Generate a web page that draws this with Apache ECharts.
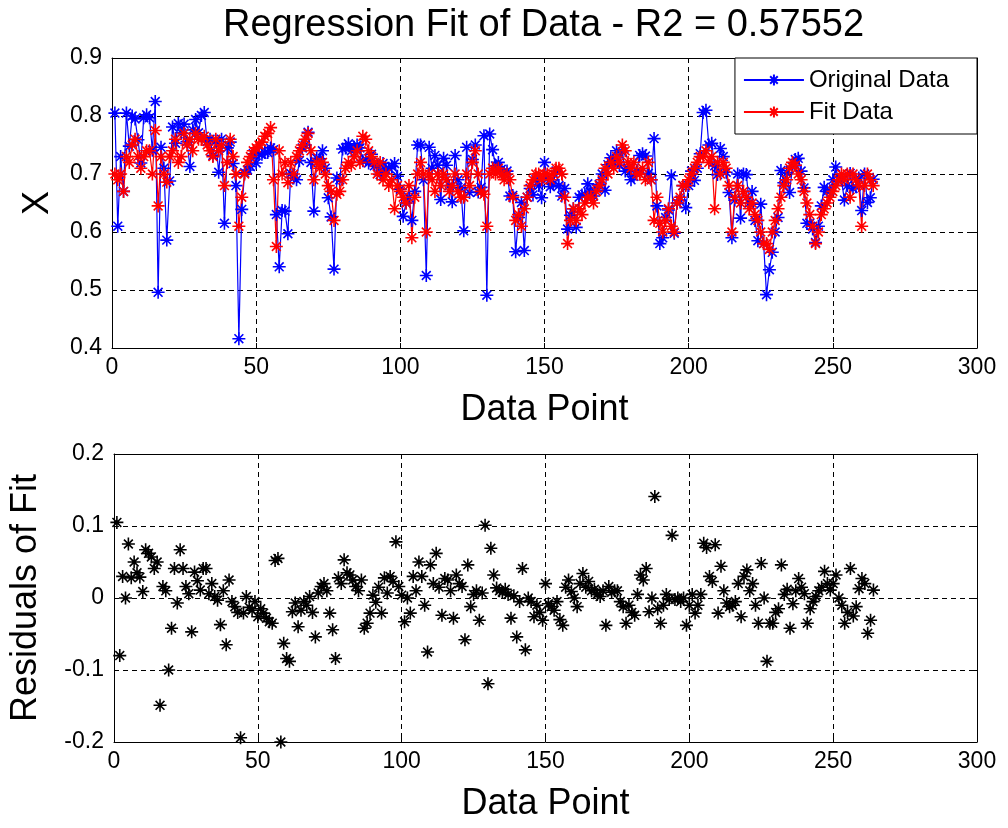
<!DOCTYPE html>
<html>
<head>
<meta charset="utf-8">
<script src="https://cdn.jsdelivr.net/npm/echarts@6/dist/echarts.min.js"></script>
<style>
html,body{margin:0;padding:0;background:#fff;}
#chart{width:1008px;height:828px;}
</style>
</head>
<body>
<div id="chart"></div>
<script>
// ---- data ----
const chartTitle = 'Regression Fit of Data - R2 = 0.57552';
const seriesNames = ['Original Data', 'Fit Data'];
const xTicks = [0, 50, 100, 150, 200, 250, 300];
const yTicksTop = [0.4, 0.5, 0.6, 0.7, 0.8, 0.9];
const yTicksBottom = [-0.2, -0.1, 0, 0.1, 0.2];

const originalData = [
0.805,0.61,0.73,0.67,0.805,0.748,0.80,0.795,0.759,0.719,
0.797,0.802,0.797,0.741,0.825,0.496,0.746,0.71,0.586,0.688,
0.781,0.753,0.787,0.771,0.786,0.756,0.713,0.776,0.794,0.771,
0.801,0.806,0.756,0.76,0.732,0.757,0.703,0.76,0.615,0.745,
0.755,0.718,0.68,0.416,0.639,0.702,0.707,0.713,0.735,0.719,
0.735,0.734,0.737,0.737,0.745,0.742,0.63,0.54,0.637,0.636,
0.597,0.701,0.693,0.69,0.723,0.745,0.75,0.772,0.72,0.636,
0.727,0.726,0.74,0.71,0.659,0.626,0.536,0.693,0.69,0.743,
0.745,0.752,0.74,0.746,0.75,0.745,0.723,0.725,0.719,0.734,
0.714,0.715,0.699,0.718,0.707,0.71,0.713,0.718,0.696,0.674,
0.627,0.65,0.659,0.62,0.67,0.75,0.75,0.69,0.525,0.746,
0.71,0.732,0.715,0.656,0.727,0.715,0.68,0.652,0.732,0.69,
0.676,0.602,0.746,0.668,0.725,0.75,0.669,0.677,0.766,0.491,
0.769,0.742,0.714,0.72,0.708,0.702,0.705,0.662,0.663,0.566,
0.625,0.651,0.568,0.66,0.675,0.664,0.69,0.68,0.659,0.72,
0.692,0.678,0.683,0.705,0.68,0.662,0.675,0.605,0.629,0.64,
0.608,0.66,0.664,0.665,0.683,0.67,0.662,0.675,0.682,0.70,
0.672,0.716,0.728,0.72,0.74,0.715,0.738,0.705,0.71,0.69,
0.696,0.705,0.732,0.735,0.731,0.701,0.69,0.761,0.645,0.58,
0.59,0.625,0.638,0.697,0.598,0.65,0.655,0.68,0.642,0.68,
0.705,0.689,0.71,0.735,0.806,0.81,0.75,0.753,0.714,0.699,
0.744,0.73,0.703,0.668,0.59,0.655,0.70,0.624,0.70,0.699,
0.65,0.67,0.62,0.585,0.648,0.58,0.492,0.535,0.565,0.60,
0.625,0.706,0.685,0.702,0.668,0.712,0.725,0.727,0.705,0.676,
0.615,0.615,0.605,0.582,0.61,0.645,0.677,0.67,0.671,0.69,
0.712,0.69,0.69,0.655,0.68,0.701,0.675,0.678,0.693,0.637,0.70,0.651,0.659,0.691
];

const fitData = [
0.70,0.69,0.70,0.67,0.73,0.72,0.75,0.76,0.73,0.71,
0.73,0.74,0.74,0.70,0.775,0.645,0.73,0.70,0.686,0.73,
0.74,0.76,0.72,0.73,0.77,0.75,0.76,0.74,0.77,0.76,
0.76,0.765,0.75,0.74,0.73,0.76,0.74,0.75,0.68,0.72,
0.76,0.73,0.70,0.61,0.66,0.70,0.72,0.73,0.74,0.745,
0.75,0.755,0.765,0.77,0.78,0.69,0.575,0.74,0.70,0.72,
0.685,0.72,0.70,0.73,0.74,0.75,0.76,0.77,0.74,0.69,
0.72,0.71,0.72,0.70,0.68,0.67,0.62,0.665,0.67,0.69,
0.71,0.72,0.715,0.73,0.74,0.72,0.765,0.76,0.74,0.73,
0.72,0.70,0.72,0.69,0.70,0.68,0.69,0.64,0.68,0.67,
0.66,0.65,0.68,0.59,0.66,0.70,0.72,0.70,0.60,0.70,
0.69,0.67,0.70,0.68,0.70,0.69,0.67,0.68,0.70,0.67,
0.66,0.66,0.70,0.68,0.72,0.74,0.70,0.67,0.665,0.61,
0.70,0.71,0.70,0.71,0.70,0.69,0.70,0.69,0.66,0.62,
0.63,0.61,0.64,0.66,0.68,0.69,0.70,0.70,0.69,0.70,
0.70,0.69,0.70,0.71,0.71,0.70,0.66,0.58,0.62,0.64,
0.62,0.64,0.63,0.65,0.66,0.66,0.65,0.67,0.68,0.69,
0.71,0.70,0.72,0.71,0.73,0.72,0.75,0.74,0.72,0.71,
0.72,0.70,0.70,0.71,0.69,0.72,0.69,0.62,0.66,0.615,
0.60,0.62,0.64,0.61,0.60,0.65,0.66,0.68,0.68,0.69,
0.70,0.71,0.72,0.73,0.73,0.74,0.72,0.73,0.64,0.72,
0.70,0.72,0.71,0.68,0.60,0.66,0.68,0.65,0.67,0.66,
0.64,0.65,0.63,0.62,0.60,0.58,0.58,0.57,0.60,0.62,
0.64,0.66,0.68,0.69,0.71,0.72,0.715,0.70,0.69,0.67,
0.65,0.63,0.61,0.58,0.60,0.63,0.64,0.65,0.66,0.67,
0.68,0.69,0.70,0.69,0.70,0.66,0.70,0.69,0.68,0.61,0.68,0.70,0.69,0.68
];

const residualData = [
0.105,-0.08,0.03,0.0,0.075,0.028,0.05,0.035,0.029,0.009,
0.067,0.062,0.057,0.041,0.05,-0.149,0.016,0.01,-0.1,-0.042,
0.041,-0.007,0.067,0.041,0.016,0.006,-0.047,0.036,0.024,0.011,
0.041,0.041,0.006,0.02,0.002,-0.003,-0.037,0.01,-0.065,0.025,
-0.005,-0.012,-0.02,-0.194,-0.021,0.002,-0.013,-0.017,-0.005,-0.026,
-0.015,-0.021,-0.028,-0.033,-0.035,0.052,0.055,-0.2,-0.063,-0.084,
-0.088,-0.019,-0.007,-0.04,-0.017,-0.005,-0.01,0.002,-0.02,-0.054,
0.007,0.016,0.02,0.01,-0.021,-0.044,-0.084,0.028,0.02,0.053,
0.035,0.032,0.025,0.016,0.01,0.025,-0.042,-0.035,-0.021,0.004,
-0.006,0.015,-0.021,0.028,0.007,0.03,0.023,0.078,0.016,0.004,
-0.033,0.0,-0.021,0.03,0.01,0.05,0.03,-0.01,-0.075,0.046,
0.02,0.062,0.015,-0.024,0.027,0.025,0.01,-0.028,0.032,0.02,
0.016,-0.058,0.046,-0.012,0.005,0.01,-0.031,0.007,0.101,-0.119,
0.069,0.032,0.014,0.01,0.008,0.012,0.005,-0.028,0.003,-0.054,
-0.005,0.041,-0.072,0.0,-0.005,-0.026,-0.01,-0.02,-0.031,0.02,
-0.008,-0.012,-0.017,-0.005,-0.03,-0.038,0.015,0.025,0.009,0.0,
-0.012,0.02,0.034,0.015,0.023,0.01,0.012,0.005,0.002,0.01,
-0.038,0.016,0.008,0.01,0.01,-0.005,-0.012,-0.035,-0.01,-0.02,
-0.024,0.005,0.032,0.025,0.041,-0.019,0.0,0.141,-0.015,-0.035,
-0.01,0.005,-0.002,0.087,-0.002,0.0,-0.005,0.0,-0.038,-0.01,
0.005,-0.021,-0.01,0.005,0.076,0.07,0.03,0.023,0.074,-0.021,
0.044,0.01,-0.007,-0.012,-0.01,-0.005,0.02,-0.026,0.03,0.039,
0.01,0.02,-0.01,-0.035,0.048,0.0,-0.088,-0.035,-0.035,-0.02,
-0.015,0.046,0.005,0.012,-0.042,-0.008,0.01,0.027,0.015,0.006,
-0.035,-0.015,-0.005,0.002,0.01,0.015,0.037,0.02,0.011,0.02,
0.032,0.0,-0.01,-0.035,-0.02,0.041,-0.025,-0.012,0.013,0.027,0.02,-0.049,-0.031,0.011
];

// ---- chart ----
const FONT = 'Liberation Sans, Arial, sans-serif';
const STAR = 'path://M5,0L5,10M0,5L10,5M1.6,1.6L8.4,8.4M1.6,8.4L8.4,1.6';
const withIndex = arr => arr.map((v, i) => [i + 1, v]);

const gridLine = { show: true, lineStyle: { color: '#000', type: [5, 4], width: 1 } };
const axLine = { show: true, onZero: false, lineStyle: { color: '#000', width: 1 } };
const tick = { show: true, inside: true, length: 5, lineStyle: { color: '#000' } };

function xAx(grid, pos, main) {
  return {
    type: 'value', gridIndex: grid, position: pos,
    min: xTicks[0], max: xTicks[xTicks.length - 1], interval: xTicks[1] - xTicks[0],
    axisLine: axLine, axisTick: tick,
    axisLabel: { show: main, color: '#000', fontSize: 23, fontFamily: FONT, margin: 8 },
    splitLine: main ? gridLine : { show: false },
    name: main ? 'Data Point' : '', nameLocation: 'middle', nameGap: 44,
    nameTextStyle: { color: '#000', fontSize: 36, fontFamily: FONT }
  };
}
function yAx(grid, pos, main, ticks, name, gap) {
  return {
    type: 'value', gridIndex: grid, position: pos,
    min: ticks[0], max: ticks[ticks.length - 1], interval: 0.1,
    axisLine: axLine, axisTick: tick,
    axisLabel: { show: main, color: '#000', fontSize: 23, fontFamily: FONT, margin: 10,
      formatter: v => String(Math.round(v * 10) / 10) },
    splitLine: main ? gridLine : { show: false },
    name: main ? name : '', nameLocation: 'middle', nameGap: gap, nameRotate: 90,
    nameTextStyle: { color: '#000', fontSize: 36, fontFamily: FONT }
  };
}

const chart = echarts.init(document.getElementById('chart'), null, { renderer: 'canvas' });
chart.setOption({
  animation: false,
  backgroundColor: '#fff',
  title: {
    text: chartTitle, left: 223, top: 2, padding: [5, 0, 5, 0],
    textStyle: { color: '#000', fontSize: 38, fontWeight: 'normal', fontFamily: FONT }
  },
  legend: {
    data: seriesNames, orient: 'vertical', right: 31, top: 58,
    backgroundColor: '#fff', borderColor: '#000', borderWidth: 1, borderRadius: 0,
    padding: [10, 28, 10, 8], itemWidth: 60, itemHeight: 14, itemGap: 8,
    textStyle: { color: '#000', fontSize: 24, fontFamily: FONT }
  },
  grid: [
    { left: 112, right: 31, top: 58, height: 290 },
    { left: 112, right: 31, top: 454, height: 288 }
  ],
  xAxis: [ xAx(0, 'bottom', true), xAx(0, 'top', false), xAx(1, 'bottom', true), xAx(1, 'top', false) ],
  yAxis: [
    yAx(0, 'left', true, yTicksTop, 'X', 56), yAx(0, 'right', false, yTicksTop, '', 0),
    yAx(1, 'left', true, yTicksBottom, 'Residuals of Fit', 70), yAx(1, 'right', false, yTicksBottom, '', 0)
  ],
  series: [
    {
      name: seriesNames[0], type: 'line', xAxisIndex: 0, yAxisIndex: 0,
      data: withIndex(originalData), symbol: STAR, symbolSize: 13, showSymbol: true,
      lineStyle: { color: '#0000ff', width: 1.2 },
      itemStyle: { color: 'rgba(0,0,0,0)', borderColor: '#0000ff', borderWidth: 1.6 }
    },
    {
      name: seriesNames[1], type: 'line', xAxisIndex: 0, yAxisIndex: 0,
      data: withIndex(fitData), symbol: STAR, symbolSize: 13, showSymbol: true,
      lineStyle: { color: '#ff0000', width: 1.2 },
      itemStyle: { color: 'rgba(0,0,0,0)', borderColor: '#ff0000', borderWidth: 1.6 }
    },
    {
      name: 'Residuals', type: 'scatter', xAxisIndex: 2, yAxisIndex: 2,
      data: withIndex(residualData), symbol: STAR, symbolSize: 13,
      itemStyle: { color: 'rgba(0,0,0,0)', borderColor: '#000', borderWidth: 1.6, opacity: 1 }
    }
  ]
});
</script>
</body>
</html>
